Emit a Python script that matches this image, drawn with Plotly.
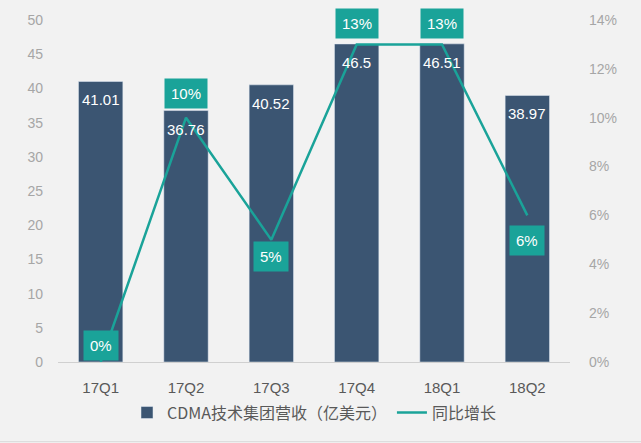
import plotly.graph_objects as go

quarters = ["17Q1", "17Q2", "17Q3", "17Q4", "18Q1", "18Q2"]
revenue = [41.01, 36.76, 40.52, 46.5, 46.51, 38.97]
growth = [0.00, 0.10, 0.05, 0.13, 0.13, 0.06]
growth_label_shift = [17, 24, -17, 21, 21, -25]

bar_color = "#3B5572"
line_color = "#1AA399"
font_family = "Noto Sans CJK SC, Noto Sans, sans-serif"

fig = go.Figure()
fig.add_trace(go.Bar(
    x=quarters, y=revenue, name="CDMA技术集团营收（亿美元）",
    marker_color=bar_color, width=0.52,
))
fig.add_trace(go.Scatter(
    x=quarters, y=growth, name="同比增长", mode="lines",
    line=dict(color=line_color, width=2.5), yaxis="y2",
))

ann = []
for q, v in zip(quarters, revenue):
    ann.append(dict(x=q, y=v, xref="x", yref="y", text=f"{v:g}",
                    showarrow=False, yanchor="top", yshift=-8,
                    font=dict(color="white", size=15, family="Arial, Liberation Sans")))
for q, g, s in zip(quarters, growth, growth_label_shift):
    ann.append(dict(x=q, y=g, xref="x", yref="y2", text=f"{round(g*100)}%",
                    showarrow=False, yshift=s, bgcolor=line_color, borderpad=6,
                    font=dict(color="white", size=15, family="Arial, Liberation Sans")))

fig.update_layout(
    width=641, height=443,
    margin=dict(l=58, r=71, t=18, b=81),
    paper_bgcolor="#F2F2F2", plot_bgcolor="#F2F2F2",
    font=dict(family=font_family),
    showlegend=True,
    legend=dict(orientation="h", x=0.5, xanchor="center", y=-0.148, yanchor="middle",
                font=dict(size=16, color="#595959"), bgcolor="rgba(0,0,0,0)",
                itemwidth=30, tracegroupgap=0),
    xaxis=dict(showgrid=False, showline=True, linecolor="#D0D0D0", linewidth=1,
               ticks="", tickfont=dict(size=15, color="#595959", family="Arial, Liberation Sans"),
               ticklabelstandoff=12),
    yaxis=dict(range=[0, 50], dtick=5, showgrid=False, zeroline=False,
               tickfont=dict(size=14, color="#A6A6A6", family="Arial, Liberation Sans"),
               ticklabelstandoff=14),
    yaxis2=dict(range=[0, 0.14], dtick=0.02, tickformat=".0%", overlaying="y", side="right",
                showgrid=False, zeroline=False,
                tickfont=dict(size=14, color="#A6A6A6", family="Arial, Liberation Sans"),
                ticklabelstandoff=18),
    annotations=ann,
    shapes=[dict(type="line", xref="paper", yref="paper", x0=-0.2, x1=1.2, y0=-0.233, y1=-0.233,
                 line=dict(color="#D9D9D9", width=1))],
)

fig.write_html("out.html")
